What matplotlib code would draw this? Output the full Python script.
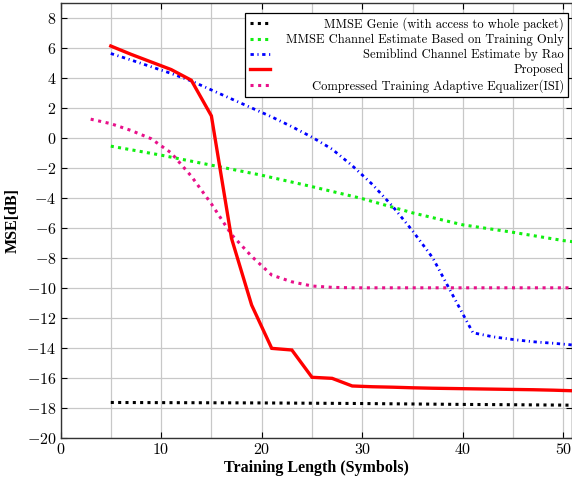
import matplotlib
matplotlib.use("Agg")
import matplotlib.pyplot as plt
from matplotlib.ticker import FixedLocator

# ---------------- data ----------------
genie_x = [5, 10, 15, 20, 25, 30, 35, 40, 45, 51]
genie_y = [-17.65, -17.66, -17.67, -17.68, -17.7, -17.72, -17.75, -17.78, -17.8, -17.83]

train_x = [5, 10, 15, 20, 25, 30, 35, 40, 45, 50, 51]
train_y = [-0.55, -1.15, -1.82, -2.49, -3.25, -4.05, -5.0, -5.8, -6.3, -6.85, -6.93]

rao_x = [5, 7, 9, 11, 13, 15, 17, 19, 21, 23, 25, 27, 29, 31, 33, 35, 37, 39, 41, 43, 45, 47, 49, 51]
rao_y = [5.63, 5.2, 4.75, 4.3, 3.8, 3.2, 2.6, 2.0, 1.4, 0.75, 0.05, -0.75, -1.85, -3.1, -4.55,
         -6.2, -8.0, -10.5, -13.0, -13.27, -13.45, -13.6, -13.7, -13.82]

prop_x = [5, 7, 9, 11, 13, 15, 17, 19, 21, 23, 25, 27, 29, 31, 33, 35, 37, 39, 41, 43, 45, 47, 49, 51]
prop_y = [6.13, 5.58, 5.07, 4.56, 3.85, 1.47, -6.7, -11.15, -14.04, -14.15, -15.97, -16.04, -16.55,
          -16.6, -16.63, -16.67, -16.7, -16.72, -16.74, -16.76, -16.78, -16.8, -16.83, -16.87]

ctae_x = [3, 5, 7, 9, 11, 13, 15, 17, 19, 21, 23, 25, 27, 29, 31, 35, 40, 45, 51]
ctae_y = [1.25, 0.95, 0.5, -0.05, -1.0, -2.55, -4.4, -6.45, -7.9, -9.15, -9.6, -9.88, -9.97, -10.0,
          -10.0, -10.0, -10.0, -10.0, -10.0]

labels = ["MMSE Genie (with access to whole packet)",
          "MMSE Channel Estimate Based on Training Only",
          "Semiblind Channel Estimate by Rao",
          "Proposed",
          "Compressed Training Adaptive Equalizer(ISI)"]

xticks = [0, 10, 20, 30, 40, 50]
yticks = list(range(-20, 9, 2))

# ---------------- style ----------------
plt.rcParams['font.family'] = ['cmr10', 'DejaVu Serif']
plt.rcParams['axes.formatter.use_mathtext'] = True
plt.rcParams['mathtext.fontset'] = 'cm'

fig = plt.figure(figsize=(5.72, 4.8), dpi=100)
ax = fig.add_axes([60.5 / 572, 1 - 437.7 / 480, (571.5 - 60.5) / 572, (437.7 - 3) / 480])

lw = 2.2
ax.plot(genie_x, genie_y, color='black', lw=lw, linestyle=(0, (1, 1.4)),
        dash_capstyle='butt', label=labels[0], zorder=3)
ax.plot(train_x, train_y, color='#11ee11', lw=lw, linestyle=(0, (1, 1.4)),
        dash_capstyle='butt', label=labels[1], zorder=3)
ax.plot(rao_x, rao_y, color='#0000ff', lw=2.0, linestyle=(0, (1.2, 1.3, 0.4, 1.3)),
        dash_capstyle='butt', label=labels[2], zorder=3)
ax.plot(prop_x, prop_y, color='#ff0000', lw=2.4, linestyle='-',
        solid_joinstyle='miter', label=labels[3], zorder=4)
ax.plot(ctae_x, ctae_y, color='#e8108a', lw=lw, linestyle=(0, (1, 1.5)),
        dash_capstyle='butt', label=labels[4], zorder=3)

ax.set_xlim(0, 50.8)
ax.set_ylim(-20, 9)
ax.xaxis.set_major_locator(FixedLocator(xticks))
ax.yaxis.set_major_locator(FixedLocator(yticks))
ax.set_xticks([5, 15, 25, 35, 45], minor=True)
ax.grid(True, which='both', color='#c8c8c8', lw=0.9, zorder=0)
ax.set_axisbelow(True)
ax.tick_params(which='both', direction='in', length=4, width=0.8, top=True, right=True,
               labelsize=11.5, pad=3)
ax.tick_params(which='minor', length=0)
for s in ax.spines.values():
    s.set_linewidth(1.0)
    s.set_color('#333333')

ax.set_xlabel('Training Length (Symbols)', fontfamily='Liberation Serif',
              fontweight='bold', fontsize=11.5, labelpad=2)
ax.set_ylabel('MSE[dB]', fontfamily='Liberation Serif', fontweight='bold',
              fontsize=11.5, labelpad=4)

leg = ax.legend(loc='upper right', bbox_to_anchor=(1 - 3.5 / 511, 1 - 10 / 435),
                fontsize=9.0, frameon=True, fancybox=False,
                edgecolor='black', framealpha=1, handlelength=1.6, handletextpad=1.3,
                borderpad=0.35, labelspacing=0.2, borderaxespad=0.0)
leg.get_frame().set_linewidth(0.9)
leg.set_zorder(10)

fig.canvas.draw()
renderer = fig.canvas.get_renderer()
widths = [t.get_window_extent(renderer).width for t in leg.get_texts()]
maxw = max(widths)
for t, w in zip(leg.get_texts(), widths):
    t.set_position((maxw - w, 0))

fig.savefig('out.png', dpi=100)
